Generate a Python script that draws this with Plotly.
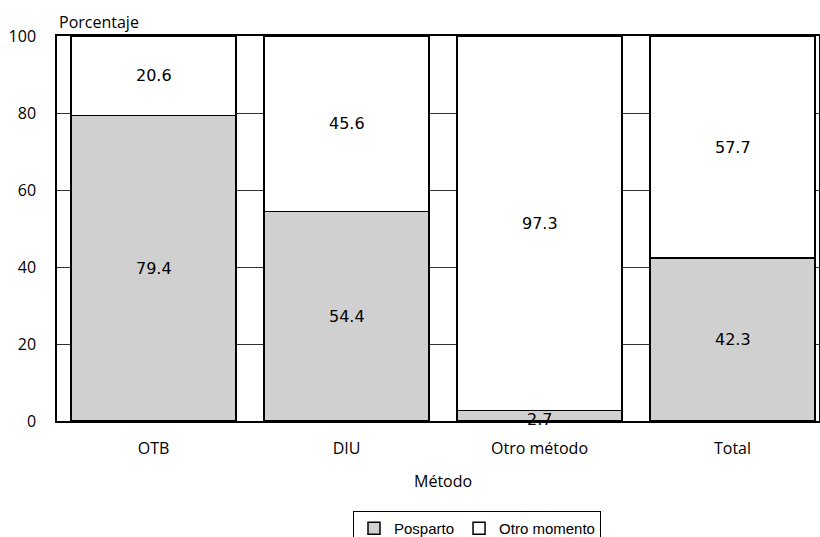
import plotly.graph_objects as go

categories = ["OTB", "DIU", "Otro método", "Total"]
posparto = [79.4, 54.4, 2.7, 42.3]
otro_momento = [20.6, 45.6, 97.3, 57.7]
y_ticks = [0, 20, 40, 60, 80, 100]

W, H = 820, 537
L, R, T, B = 57, 1, 36, 116

label_font = dict(family="DejaVu Sans", size=16, color="black")

fig = go.Figure()
fig.add_trace(go.Bar(
    x=categories, y=posparto, name="Posparto",
    marker=dict(color="#d0d0d0", line=dict(color="black", width=1.5)),
    width=0.855,
))
fig.add_trace(go.Bar(
    x=categories, y=otro_momento, name="Otro momento",
    marker=dict(color="white", line=dict(color="black", width=1.5)),
    width=0.855,
))

# value labels centred in each stacked segment
value_labels = []
for cat, p, o in zip(categories, posparto, otro_momento):
    value_labels.append(dict(
        x=cat, y=p / 2, xref="x", yref="y", text=f"{p:.1f}",
        showarrow=False, font=label_font,
        yshift=-4 if p < 5 else 0,
    ))
    value_labels.append(dict(
        x=cat, y=p + o / 2, xref="x", yref="y", text=f"{o:.1f}",
        showarrow=False, font=label_font,
    ))

fig.update_layout(
    barmode="stack",
    width=W, height=H,
    margin=dict(l=L, r=R, t=T, b=B, autoexpand=False),
    paper_bgcolor="white", plot_bgcolor="white",
    font=dict(family="Open Sans", size=16, color="black"),
    showlegend=True,
    legend=dict(
        orientation="h", x=(477 - L) / (W - L - R), xanchor="center",
        y=(421 - 511) / (421 - 36), yanchor="top",
        bordercolor="black", borderwidth=1, bgcolor="white",
        font=dict(family="Liberation Sans", size=15),
        itemwidth=30, traceorder="normal",
    ),
    xaxis=dict(
        range=[-0.5, 3.5 - (829 - 819) / 193.0],
        showline=True, linecolor="black", linewidth=1.5, mirror=True,
        ticks="", tickfont=dict(size=16), ticklabelstandoff=12,
    ),
    yaxis=dict(
        range=[0, 100], tickvals=y_ticks,
        showline=True, linecolor="black", linewidth=1.5, mirror=True,
        showgrid=True, gridcolor="#333333", gridwidth=1,
        ticks="", tickfont=dict(size=16), zeroline=False,
        ticklabelstandoff=16,
    ),
    annotations=value_labels + [
        dict(text="Porcentaje", xref="paper", yref="paper", x=0, y=1,
             xanchor="left", yanchor="bottom", yshift=1, showarrow=False,
             font=dict(size=16)),
        dict(text="Método", xref="paper", yref="paper",
             x=(443 - L) / (W - L - R), y=(421 - 481) / (421 - 36),
             xanchor="center", yanchor="middle", showarrow=False,
             font=dict(size=16)),
    ],
)

fig.write_html("out.html", config={"displayModeBar": False},
               post_script="document.body.style.margin='0';")
